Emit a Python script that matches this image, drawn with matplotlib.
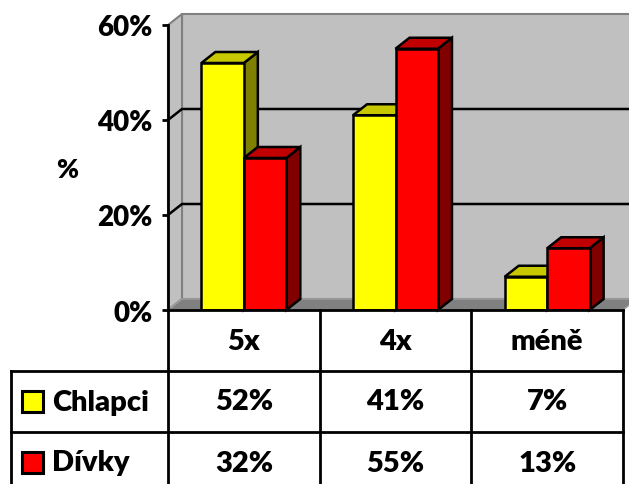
import matplotlib.pyplot as plt
from matplotlib.patches import Polygon
from matplotlib.lines import Line2D
from matplotlib.transforms import IdentityTransform

# survey answers, in percent
categories = ['5x', '4x', 'méně']
series_names = ['Chlapci', 'Dívky']
chlapci = [52, 41, 7]
divky = [32, 55, 13]
y_ticks = [0, 20, 40, 60]

front_colors = ['#ffff00', '#ff0000']
top_colors = ['#c8c800', '#c00000']
side_colors = ['#808000', '#800000']

plt.rcParams['font.family'] = ['Lato', 'DejaVu Sans']
plt.rcParams['font.weight'] = 'heavy'
WEIGHT = 'heavy'

fig = plt.figure(figsize=(6.29, 4.85), dpi=100)
ax = fig.add_axes([168 / 629, 174 / 485, 455 / 629, 285 / 485])
ax.set_xlim(-0.5, 2.5)
ax.set_ylim(0, 60)
ax.patch.set_visible(False)
for side in ['top', 'right', 'bottom']:
    ax.spines[side].set_visible(False)
ax.spines['left'].set_linewidth(2)
ax.spines['left'].set_zorder(6)
ax.set_xticks([])
ax.set_yticks(y_ticks)
ax.set_yticklabels([f'{v}%' for v in y_ticks], fontsize=20, fontweight=WEIGHT)
ax.tick_params(axis='y', length=4, width=2, pad=7)

DX, DY = 14, 11   # depth of the 3d box in pixels
px = IdentityTransform()


def to_px(x, y):
    return ax.transData.transform((x, y))


def poly(points, **kw):
    ax.add_patch(Polygon(points, closed=True, transform=px, clip_on=False, **kw))


def line(xs, ys, **kw):
    ax.add_line(Line2D(xs, ys, transform=px, clip_on=False, **kw))


x0, y0 = to_px(-0.5, 0)
x1, y1 = to_px(2.5, y_ticks[-1])

# walls and floor
poly([(x0 + DX, y0 + DY), (x1 + DX, y0 + DY), (x1 + DX, y1 + DY), (x0 + DX, y1 + DY)],
     fc='#c0c0c0', ec='#808080', lw=1.5, zorder=1)
poly([(x0, y0), (x0 + DX, y0 + DY), (x0 + DX, y1 + DY), (x0, y1)],
     fc='#c0c0c0', ec='#808080', lw=1.5, zorder=1)
poly([(x0, y0), (x1, y0), (x1 + DX, y0 + DY), (x0 + DX, y0 + DY)],
     fc='#808080', ec='#a0a0a0', lw=1, zorder=1.5)

# gridlines running over the side wall and the back wall
for v in y_ticks[1:-1]:
    _, yv = to_px(-0.5, v)
    line([x0, x0 + DX, x1 + DX], [yv, yv + DY, yv + DY], color='black', lw=1.8, zorder=2)

# 3d columns
width = 0.28
offsets = [-0.14, 0.14]
for i, vals in enumerate([chlapci, divky]):
    xs = [k + offsets[i] for k in range(len(categories))]
    ax.bar(xs, vals, width, color=front_colors[i], edgecolor='black', lw=1.8,
           zorder=3 + i + 0.5)
    for xc, v in zip(xs, vals):
        l, b = to_px(xc - width / 2, 0)
        r, t = to_px(xc + width / 2, v)
        poly([(r, b), (r + DX, b + DY), (r + DX, t + DY), (r, t)],
             fc=side_colors[i], ec='black', lw=1.8, zorder=3 + i)
        poly([(l, t), (r, t), (r + DX, t + DY), (l + DX, t + DY)],
             fc=top_colors[i], ec='black', lw=1.8, zorder=3 + i)

# data table under the plot
row_h = 61
label_w = 157
xl = x0 - label_w
bottom = y0 - 4 * row_h
bounds = [to_px(k - 0.5, 0)[0] for k in range(len(categories) + 1)]
tcfg = dict(transform=px, fontsize=21, fontweight=WEIGHT, va='center', clip_on=False)

line([x0, x1], [y0, y0], color='black', lw=2, zorder=6)
for bx in bounds:
    line([bx, bx], [y0, bottom], color='black', lw=2, zorder=6)
line([xl, xl], [y0 - row_h, bottom], color='black', lw=2, zorder=6)
for r in (1, 2, 3):
    line([xl, x1], [y0 - r * row_h, y0 - r * row_h], color='black', lw=2, zorder=6)

for k, cat in enumerate(categories):
    cx = (bounds[k] + bounds[k + 1]) / 2
    ax.text(cx, y0 - row_h / 2, cat, ha='center', **tcfg)
    for r, vals in enumerate([chlapci, divky]):
        ax.text(cx, y0 - (r + 1.5) * row_h, f'{vals[k]}%', ha='center', **tcfg)

for r, name in enumerate(series_names):
    cy = y0 - (r + 1.5) * row_h
    poly([(xl + 11, cy - 10), (xl + 32, cy - 10), (xl + 32, cy + 11), (xl + 11, cy + 11)],
         fc=front_colors[r], ec='black', lw=2.2, zorder=6)
    ax.text(xl + 41, cy, name, ha='left', **tcfg)

fig.text(67 / 629, 1 - 170 / 485, '%', fontsize=19, fontweight=WEIGHT,
         ha='center', va='center')

fig.savefig('out.png', dpi=100)
